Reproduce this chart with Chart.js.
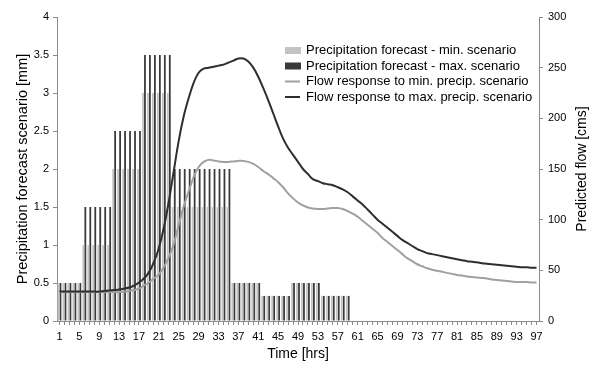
<!DOCTYPE html>
<html>
<head>
<meta charset="utf-8">
<script src="https://cdn.jsdelivr.net/npm/chart.js@4/dist/chart.umd.min.js"></script>
<style>
html,body{margin:0;padding:0;background:#fff;}
#wrap{position:relative;width:594px;height:369px;}
</style>
</head>
<body>
<div id="wrap"><canvas id="c" width="594" height="369"></canvas></div>
<script>
const hours = [1,2,3,4,5,6,7,8,9,10,11,12,13,14,15,16,17,18,19,20,21,22,23,24,25,26,27,28,29,30,31,32,33,34,35,36,37,38,39,40,41,42,43,44,45,46,47,48,49,50,51,52,53,54,55,56,57,58,59,60,61,62,63,64,65,66,67,68,69,70,71,72,73,74,75,76,77,78,79,80,81,82,83,84,85,86,87,88,89,90,91,92,93,94,95,96,97];

const precipMin = [0.5,0.5,0.5,0.5,0.5, 1,1,1,1,1,1, 2,2,2,2,2,2, 3,3,3,3,3,3, 1.5,1.5,1.5,1.5,1.5,1.5,1.5,1.5,1.5,1.5,1.5,1.5, 0.5,0.5,0.5,0.5,0.5,0.5, 0.33,0.33,0.33,0.33,0.33,0.33, 0.5,0.5,0.5,0.5,0.5,0.5, 0.33,0.33,0.33,0.33,0.33,0.33, 0,0,0,0,0,0,0,0,0,0,0,0,0,0,0,0,0,0,0,0,0,0,0,0,0,0,0,0,0,0,0,0,0,0,0,0,0,0];

const precipMax = [0.5,0.5,0.5,0.5,0.5, 1.5,1.5,1.5,1.5,1.5,1.5, 2.5,2.5,2.5,2.5,2.5,2.5, 3.5,3.5,3.5,3.5,3.5,3.5, 2,2,2,2,2,2,2,2,2,2,2,2, 0.5,0.5,0.5,0.5,0.5,0.5, 0.33,0.33,0.33,0.33,0.33,0.33, 0.5,0.5,0.5,0.5,0.5,0.5, 0.33,0.33,0.33,0.33,0.33,0.33, 0,0,0,0,0,0,0,0,0,0,0,0,0,0,0,0,0,0,0,0,0,0,0,0,0,0,0,0,0,0,0,0,0,0,0,0,0,0];

const flowMin = [28.5,28.5,28.5,28.5,28.5,28.5,28.5,28.5,28.5,28.5,28.5,28.5,
  28.5,29,29.5,30.5,32,35,38,42,
  46,53,63,76,95,113,128,142,152,157,
  159,158.5,157.5,157,157,157.5,158,158,157,155,
  152,148,145,141,137,132,126,121,117,114,
  112,111,110.5,110.5,111,111.5,111.5,110.5,108.5,106,
  103,99,95,91,87,82,78,74,70,66,
  62,59,56,54,52,50.5,49.5,48.5,47.5,46.5,
  45.5,45,44,43.5,43,42.5,42,41,40.5,40,
  39.5,39,38.5,38.5,38.5,38,38];

const flowMax = [29,29,29,29,29,29,29,29,29,29.5,
  30,30.5,31,32,33,35,38,42,48,58,
  72,92,118,148,178,202,220,235,245,249,
  250,251,252,253,255,257,259,259,256,250,
  241,230,218,205,192,180,171,164,157,150,
  145,140,138,136,135,134,132,130,127,123,
  119,115,110,105,100,96,92,88,84,80,
  77,74,71,69,67,66,65,64,63,62,
  61,60,59,58.5,58,57,56.5,56,55.5,55,
  54.5,54,53.5,53,53,52.5,52.5];

const xTickLabels = ['1','5','9','13','17','21','25','29','33','37','41','45','49','53','57','61','65','69','73','77','81','85','89','93','97'];
const leftTicks = [0,0.5,1,1.5,2,2.5,3,3.5,4];
const rightTicks = [0,50,100,150,200,250,300];
const rightTitle = 'Predicted flow [cms]';

const FONT = 'Arial, "Liberation Sans", sans-serif';
const AXIS = '#8c8c8c';

const legendPlugin = {
  id: 'customLegend',
  afterDraw(chart) {
    const ctx = chart.ctx;
    const x0 = 285, rows = [50.5, 66, 81.5, 97];
    ctx.save();
    ctx.font = '13px ' + FONT;
    ctx.textBaseline = 'middle';
    chart.data.datasets.forEach((ds, i) => {
      const y = rows[i];
      if (ds.type === 'bar') {
        ctx.fillStyle = ds.backgroundColor;
        ctx.fillRect(x0, y - 3.5, 16, 7);
      } else {
        ctx.strokeStyle = ds.borderColor;
        ctx.lineWidth = 2;
        ctx.beginPath();
        ctx.moveTo(x0, y);
        ctx.lineTo(x0 + 15, y);
        ctx.stroke();
      }
      ctx.fillStyle = '#000';
      ctx.fillText(ds.label, x0 + 21, y);
    });
    // right axis title, rotated to read bottom-to-top
    const s = chart.scales.y2;
    ctx.translate(582, (s.top + s.bottom) / 2);
    ctx.rotate(-Math.PI / 2);
    ctx.font = '14px ' + FONT;
    ctx.textAlign = 'center';
    ctx.fillStyle = '#000';
    ctx.fillText(rightTitle, 0, 0);
    ctx.restore();
  }
};

new Chart(document.getElementById('c'), {
  data: {
    labels: hours,
    datasets: [
      { type: 'bar', label: 'Precipitation forecast - min. scenario', data: precipMin, backgroundColor: '#c3c3c3', yAxisID: 'y', order: 2, categoryPercentage: 0.8, barPercentage: 0.9 },
      { type: 'bar', label: 'Precipitation forecast - max. scenario', data: precipMax, backgroundColor: '#3a3a3a', yAxisID: 'y', order: 2, categoryPercentage: 0.8, barPercentage: 0.9 },
      { type: 'line', label: 'Flow response to min. precip. scenario', data: flowMin, borderColor: '#a0a0a0', borderWidth: 2, pointRadius: 0, tension: 0.4, yAxisID: 'y2', order: 1 },
      { type: 'line', label: 'Flow response to max. precip. scenario', data: flowMax, borderColor: '#2e2e2e', borderWidth: 2, pointRadius: 0, tension: 0.4, yAxisID: 'y2', order: 0 }
    ]
  },
  options: {
    responsive: false,
    animation: false,
    layout: { padding: { top: 17, right: 0, bottom: 0, left: 0 } },
    plugins: { legend: { display: false }, tooltip: { enabled: false } },
    scales: {
      x: {
        type: 'category',
        offset: true,
        grid: { display: true, drawOnChartArea: false, drawTicks: true, tickLength: 4, color: AXIS, offset: false },
        border: { display: true, color: AXIS },
        ticks: {
          autoSkip: false, maxRotation: 0, minRotation: 0, padding: 5,
          color: '#000', font: { size: 11, family: FONT },
          callback: function(v, i) { const l = String(hours[i]); return xTickLabels.includes(l) ? l : ''; }
        },
        title: { display: true, text: 'Time [hrs]', color: '#000', font: { size: 14, family: FONT }, padding: { top: 4, bottom: 6 } },
        afterFit: s => { s.height = 48; }
      },
      y: {
        position: 'left', min: 0, max: 4,
        grid: { drawOnChartArea: false, drawTicks: true, tickLength: 4, color: AXIS },
        border: { display: true, color: AXIS },
        afterBuildTicks: s => { s.ticks = leftTicks.map(v => ({ value: v })); },
        ticks: { color: '#000', padding: 4, font: { size: 11, family: FONT }, callback: v => String(v) },
        title: { display: true, text: 'Precipitation forecast scenario [mm]', color: '#000', font: { size: 14.5, family: FONT }, padding: { top: 14, bottom: 0 } },
        afterFit: s => { s.width = 57; }
      },
      y2: {
        position: 'right', min: 0, max: 300,
        grid: { drawOnChartArea: false, drawTicks: true, tickLength: 4, color: AXIS },
        border: { display: true, color: AXIS },
        afterBuildTicks: s => { s.ticks = rightTicks.map(v => ({ value: v })); },
        ticks: { color: '#000', padding: 5, font: { size: 11, family: FONT }, callback: v => String(v) },
        title: { display: false },
        afterFit: s => { s.width = 55; }
      }
    }
  },
  plugins: [legendPlugin]
});
</script>
</body>
</html>
